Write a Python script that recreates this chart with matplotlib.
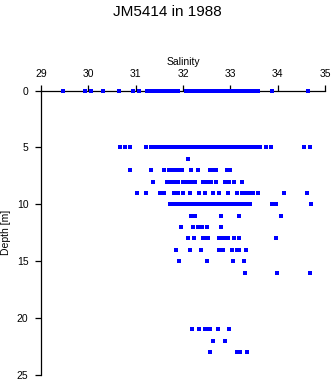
import matplotlib
matplotlib.use("Agg")
import matplotlib.pyplot as plt

plt.rcParams['font.family'] = ['Liberation Sans', 'DejaVu Sans']

# salinity readings per depth level
sal_0 = [29.47, 29.93, 30.05, 30.32, 30.65, 30.95, 31.06,
         31.23, 31.28, 31.33, 31.36, 31.40, 31.44, 31.47, 31.51, 31.55, 31.60,
         31.64, 31.68, 31.72, 31.76, 31.80, 31.84, 31.89, 32.07, 32.11, 32.15,
         32.19, 32.23, 32.28, 32.32, 32.36, 32.41, 32.46, 32.50, 32.54, 32.58,
         32.62, 32.66, 32.70, 32.74, 32.78, 32.83, 32.88, 32.92, 32.95, 32.99,
         33.03, 33.07, 33.11, 33.15, 33.19, 33.23, 33.27, 33.31, 33.35, 33.39,
         33.43, 33.47, 33.51, 33.55, 33.59, 33.89, 34.65]
sal_5 = [30.66, 30.77, 30.87, 31.21,
         31.33, 31.37, 31.41, 31.45, 31.49, 31.53, 31.57, 31.61, 31.65, 31.69,
         31.73, 31.77, 31.81, 31.85, 31.89, 31.93, 31.97, 32.01, 32.05, 32.09,
         32.13, 32.17, 32.21, 32.25, 32.29, 32.33, 32.37, 32.41, 32.46, 32.50,
         32.54, 32.58, 32.62, 32.66, 32.70, 32.74, 32.78, 32.82, 32.86, 32.90,
         32.99, 33.03, 33.07, 33.11, 33.15, 33.19, 33.23, 33.27, 33.31, 33.35,
         33.39, 33.43, 33.47, 33.51, 33.55, 33.62, 33.75, 33.85, 34.56, 34.68]
sal_6 = [32.11]
sal_7 = [30.89, 31.33, 31.60, 31.71, 31.75, 31.79, 31.83, 31.87, 31.93,
         31.98, 32.17, 32.31, 32.56, 32.60, 32.65, 32.70, 32.92, 32.99]
sal_8 = [31.36, 31.66, 31.75, 31.83, 31.90, 32.00, 32.06, 32.11, 32.16,
         32.26, 32.42, 32.50, 32.60, 32.69, 32.88, 32.98, 33.08, 33.25]
sal_9 = [31.02, 31.21, 31.51, 31.60, 31.82, 31.90, 32.00, 32.14, 32.34,
         32.46, 32.64, 32.75, 32.96, 33.15, 33.25, 33.30, 33.36, 33.42, 33.47,
         33.58, 34.13, 34.61]
sal_10 = [31.72, 31.76, 31.80, 31.84, 31.88, 31.92, 31.96, 32.00, 32.04,
          32.08, 32.13, 32.17, 32.21, 32.25, 32.29, 32.33, 32.37, 32.41, 32.45,
          32.49, 32.52, 32.55, 32.59, 32.63, 32.67, 32.71, 32.75, 32.79, 32.83,
          32.86, 32.90, 32.94, 32.98, 33.02, 33.06, 33.10, 33.14, 33.18, 33.22,
          33.26, 33.30, 33.36, 33.41, 33.88, 33.93, 33.97, 34.70]
sal_11 = [32.16, 32.26, 32.80, 33.18, 34.06]
sal_12 = [31.95, 32.21, 32.31, 32.36, 32.41, 32.51, 32.80]
sal_13 = [32.11, 32.24, 32.42, 32.47, 32.52, 32.75, 32.80, 32.86, 32.94,
          33.07, 33.19, 33.96]
sal_14 = [31.85, 32.14, 32.38, 32.75, 32.84, 33.04, 33.15, 33.19, 33.34]
sal_15 = [31.92, 32.51, 33.06, 33.29]
sal_16 = [33.30, 33.99, 34.68]
sal_21 = [32.20, 32.33, 32.46, 32.51, 32.56, 32.73, 32.97]
sal_22 = [32.63, 32.89]
sal_23 = [32.57, 33.14, 33.20, 33.35]

depths = [0, 5, 6, 7, 8, 9, 10, 11, 12, 13, 14, 15, 16, 21, 22, 23]
salinity = [sal_0, sal_5, sal_6, sal_7, sal_8, sal_9, sal_10, sal_11, sal_12,
            sal_13, sal_14, sal_15, sal_16, sal_21, sal_22, sal_23]

fig = plt.figure(figsize=(3.35, 3.84), dpi=100)
ax = fig.add_axes([0.1224, 0.0234, 0.8478, 0.7409])

for d, s in zip(depths, salinity):
    ax.plot(s, [d] * len(s), linestyle='none', marker='s', markersize=2.6,
            color='#0000ff', markeredgewidth=0, clip_on=False, zorder=3)

ax.set_xlim(29, 35)
ax.set_ylim(25, 0)
ax.set_xticks([29, 30, 31, 32, 33, 34, 35])
ax.set_yticks([0, 5, 10, 15, 20, 25])
ax.xaxis.tick_top()
ax.xaxis.set_label_position('top')
ax.spines['right'].set_visible(False)
ax.spines['bottom'].set_visible(False)
ax.spines['left'].set_linewidth(0.9)
ax.spines['top'].set_linewidth(0.9)
ax.tick_params(axis='both', direction='out', length=4, width=0.9,
               labelsize=7.5, pad=4)
ax.tick_params(axis='y', pad=5)

ax.set_xlabel('Salinity', fontsize=7.5, labelpad=3)
ax.set_ylabel('Depth [m]', fontsize=7.5, labelpad=4)
fig.suptitle('JM5414 in 1988', fontsize=11, y=0.988)

fig.savefig('out.png', dpi=100)
